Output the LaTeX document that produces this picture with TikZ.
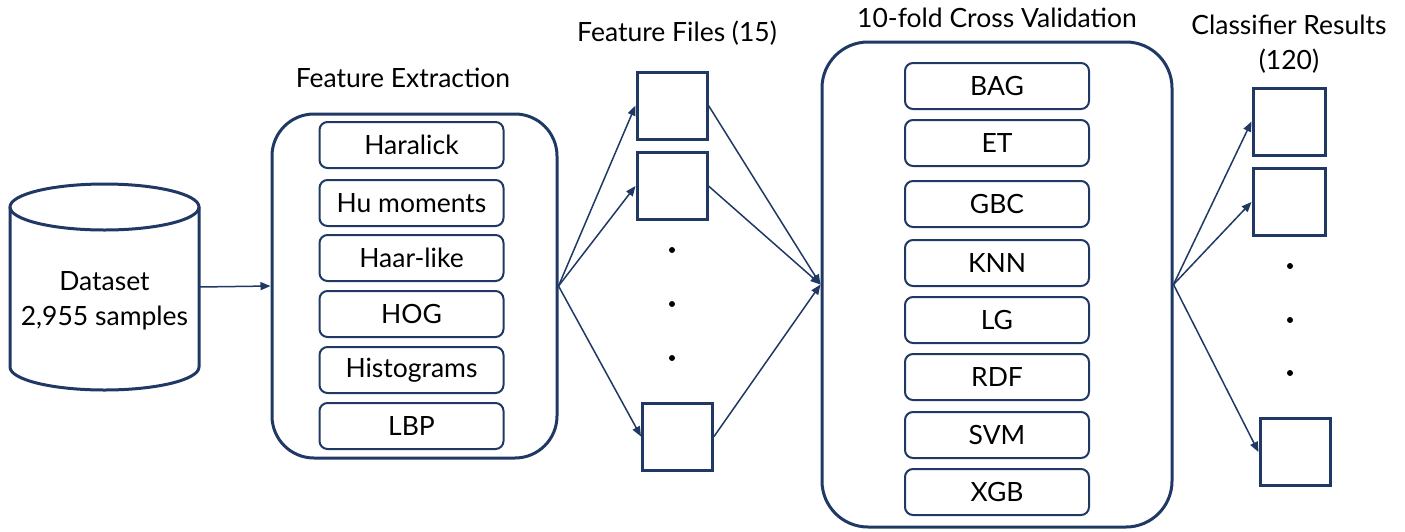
\documentclass[tikz,border=0pt]{standalone}
\usepackage{fontspec}
\setmainfont{Lato}
\usetikzlibrary{arrows.meta}
\definecolor{boxblue}{HTML}{1F3864}
\newcommand{\labelfont}{\fontsize{26.5}{35}\selectfont}
\tikzset{
  groupbox/.style={draw=boxblue, line width=3pt, rounded corners=42pt},
  itembox/.style={draw=boxblue, line width=2pt, rounded corners=8pt, minimum width=184pt, minimum height=46pt, font=\labelfont},
  filebox/.style={draw=boxblue, line width=3pt, minimum width=70pt, minimum height=67pt},
  flow/.style={draw=boxblue, line width=1.5pt, -{Triangle[length=10pt,width=8pt]}},
  caption/.style={font=\labelfont, align=center},
  dotmark/.style={circle, fill=black, inner sep=0pt, minimum size=6pt},
}

\begin{document}
\begin{tikzpicture}[x=1pt, y=-1pt]
  \useasboundingbox (0,0) rectangle (1405,531);

  % === DATASET ===
  \draw[boxblue, line width=3pt, fill=white]
    (10,207) -- (10,367) arc[start angle=180, end angle=0, x radius=94.5, y radius=23] -- (199,207);
  \draw[boxblue, line width=3pt] (104.5,207) ellipse [x radius=94.5, y radius=23];
  \node[caption] (dataset) at (104.5,301) {Dataset\\2,955 samples};
  \coordinate (dbout) at (199,287);

  % === FEATURE EXTRACTION ===
  \node[groupbox, minimum width=285pt, minimum height=344pt] (fe) at (414.5,286) {};
  \node[caption] (fetitle) at (403,78) {Feature Extraction};
  \node[itembox] (haralick) at (411.5,145) {Haralick};
  \node[itembox] (hu) at (411.5,203) {Hu moments};
  \node[itembox] (haar) at (411.5,258) {Haar-like};
  \node[itembox] (hog) at (411.5,314) {HOG};
  \node[itembox] (hist) at (411.5,370) {Histograms};
  \node[itembox] (lbp) at (411.5,426) {LBP};

  % === FEATURE FILES ===
  \node[caption] (fftitle) at (677,33) {Feature Files (15)};
  \node[filebox] (ff1) at (672,105.5) {};
  \node[filebox] (ff2) at (672,186) {};
  \node[filebox] (ffn) at (677.5,436.5) {};
  \node[dotmark] (ffdot1) at (672,250) {};
  \node[dotmark] (ffdot2) at (672,304) {};
  \node[dotmark] (ffdot3) at (672,358) {};

  % === CROSS VALIDATION ===
  \node[groupbox, rounded corners=46pt, minimum width=350pt, minimum height=485pt] (cv) at (997,284.5) {};
  \node[caption] (cvtitle) at (997,18) {10-fold Cross Validation};
  \node[itembox] (bag) at (997,86) {BAG};
  \node[itembox] (et) at (997,143) {ET};
  \node[itembox] (gbc) at (997,204) {GBC};
  \node[itembox] (knn) at (997,263) {KNN};
  \node[itembox] (lg) at (997,320) {LG};
  \node[itembox] (rdf) at (997,377) {RDF};
  \node[itembox] (svm) at (997,435) {SVM};
  \node[itembox] (xgb) at (997,492) {XGB};

  % === CLASSIFIER RESULTS ===
  \node[caption] (crtitle) at (1289,44) {Classifier Results\\(120)};
  \node[filebox, minimum width=72pt] (cr1) at (1289,121.5) {};
  \node[filebox, minimum width=72pt] (cr2) at (1289,202) {};
  \node[filebox] (crn) at (1295,452) {};
  \node[dotmark] (crdot1) at (1290,266) {};
  \node[dotmark] (crdot2) at (1290,320) {};
  \node[dotmark] (crdot3) at (1290,373) {};

  % Arrows
  \draw[flow] (dbout) -- (fe.west);
  \draw[flow] (fe.east) -- (ff1.west);
  \draw[flow] (fe.east) -- (ff2.west);
  \draw[flow] (fe.east) -- (ffn.west);
  \draw[flow] (ff1.east) -- (cv.west);
  \draw[flow] (ff2.east) -- (cv.west);
  \draw[flow] (ffn.east) -- (cv.west);
  \draw[flow] (cv.east) -- (cr1.west);
  \draw[flow] (cv.east) -- (cr2.west);
  \draw[flow] (cv.east) -- (crn.west);
\end{tikzpicture}
\end{document}
